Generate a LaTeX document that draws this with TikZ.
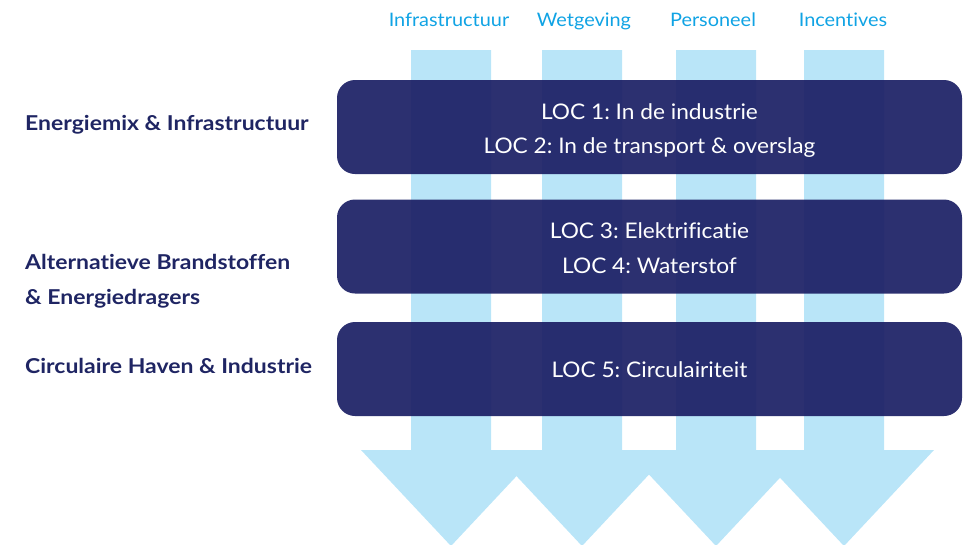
\documentclass[tikz,border=0pt]{standalone}
\usepackage{fontspec}
\setmainfont{Lato}[Ligatures=NoCommon]
\newfontfamily\locfont[FakeStretch=1.055,Ligatures=NoCommon]{Lato}
\newfontfamily\themefont[FakeStretch=1.12,Ligatures=NoCommon]{Lato}
\newfontfamily\headfont[FakeStretch=1.07,Ligatures=NoCommon]{Lato}
\definecolor{boxnavy}{RGB}{28,32,101}
\definecolor{labelnavy}{RGB}{31,37,99}
\definecolor{skyarrow}{RGB}{185,229,248}
\definecolor{headcyan}{RGB}{16,163,228}
\frenchspacing
\begin{document}
\begin{tikzpicture}[x=1pt,y=-1pt,
  locbox/.style={fill=boxnavy, fill opacity=0.93, draw=none,
    rounded corners=18pt, minimum width=625pt, minimum height=94pt, inner sep=0pt},
  loctext/.style={anchor=base, text=white, inner sep=0pt,
    font=\locfont\fontsize{21.5}{26}\selectfont},
  themelabel/.style={anchor=base west, text=labelnavy, inner sep=0pt,
    font=\themefont\fontsize{20.5}{25}\selectfont\bfseries},
  columnhead/.style={anchor=base, text=headcyan, inner sep=0pt,
    font=\headfont\fontsize{18.6}{22}\selectfont}]
\useasboundingbox (0,0) rectangle (964,544);
\clip (0,0) rectangle (964,544);

% four downward arrows, one per enabling column
\foreach \c/\l/\r in {451/411/491, 582/542/622, 716/676/756, 844/804/884}
  \fill[skyarrow] (\l,50) -- (\r,50) -- (\r,450) -- (\c+90,450) -- (\c,546)
    -- (\c-90,450) -- (\l,450) -- cycle;

% column headings
\node[columnhead] (h1) at (449,26.7) {Infrastructuur};
\node[columnhead] (h2) at (584,26.7) {Wetgeving};
\node[columnhead] (h3) at (713,26.7) {Personeel};
\node[columnhead] (h4) at (843,26.7) {Incentives};

% LOC boxes laid over the arrows
\node[locbox] (box12) at (649.5,127) {};
\node[locbox] (box34) at (649.5,246.5) {};
\node[locbox] (box5) at (649.5,369) {};

\node[loctext] (loc1) at (649.5,119) {LOC 1: In de industrie};
\node[loctext] (loc2) at (649.5,153.5) {LOC 2: In de transport \& overslag};
\node[loctext] (loc3) at (649.5,238.5) {LOC 3: Elektrificatie};
\node[loctext] (loc4) at (649.5,273.5) {LOC 4: Waterstof};
\node[loctext] (loc5) at (649.5,377.5) {LOC 5: Circulairiteit};

% themes on the left
\node[themelabel] (t1) at (25,130.7) {Energiemix \& Infrastructuur};
\node[themelabel] (t2a) at (25,269.3) {Alternatieve Brandstoffen};
\node[themelabel] (t2b) at (25,304) {\& Energiedragers};
\node[themelabel] (t3) at (25,373.5) {Circulaire Haven \& Industrie};
\end{tikzpicture}
\end{document}
